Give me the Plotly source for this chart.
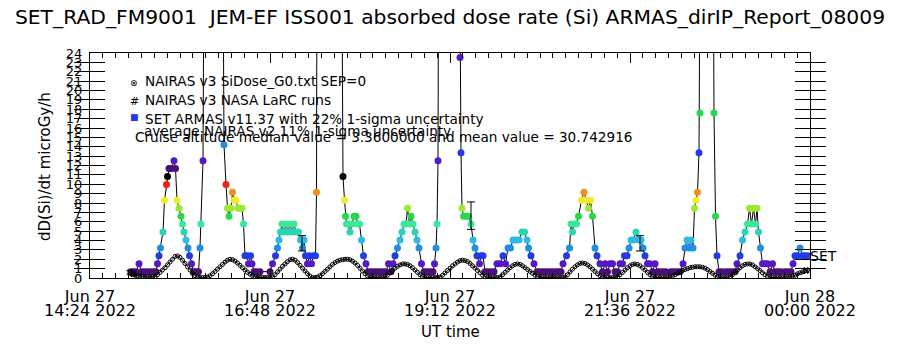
import pandas as pd
import plotly.graph_objects as go

# ---------------- data ----------------
T0 = pd.Timestamp("2022-06-27 14:24")
T_END = pd.Timestamp("2022-06-28 00:00")

# NAIRAS v3 SiDose_G0 (SEP=0), 2-min samples starting 14:58 UT
nairas_start = pd.Timestamp("2022-06-27 14:58")
nairas_step_min = 2
nairas_g0 = [
    0.35, 0.3, 0.25, 0.2, 0.15, 0.1, 0.1, 0.1, 0.1,
    0.15, 0.35, 0.6, 0.85, 1.1, 1.4, 1.7, 2.0, 2.3, 2.35, 2.2, 1.9, 1.55, 1.2, 0.85, 0.5, 0.25, 0.1,
    0.05, 0.05, 0.05,
    0.1, 0.25, 0.45, 0.7, 0.95, 1.2, 1.45, 1.7, 1.9, 2.0, 1.95, 1.8, 1.6, 1.35, 1.1, 0.85, 0.6, 0.4, 0.25, 0.1, 0.05,
    0.05, 0.05, 0.05, 0.05, 0.05,
    0.1, 0.35, 0.65, 0.95, 1.25, 1.5, 1.75, 1.95, 2.0, 1.9, 1.65, 1.35, 1.05, 0.75, 0.45, 0.2, 0.05,
    0.05, 0.1, 0.25, 0.45, 0.7, 0.95, 1.2, 1.45, 1.65, 1.8, 1.9, 1.95, 2.0, 2.0, 1.95, 1.8, 1.6, 1.35, 1.05, 0.75, 0.45, 0.2, 0.05,
    0.05, 0.05, 0.05, 0.05, 0.05,
    0.1, 0.3, 0.55, 0.8, 1.05, 1.25, 1.4, 1.5, 1.5, 1.45, 1.3, 1.1, 0.85, 0.6, 0.35, 0.15, 0.05,
    0.05, 0.05, 0.05, 0.05, 0.05,
    0.1, 0.3, 0.55, 0.8, 1.05, 1.3, 1.5, 1.7, 1.85, 1.9, 1.85, 1.75, 1.55, 1.3, 1.05, 0.8, 0.55, 0.3, 0.15, 0.05,
    0.05, 0.05, 0.05, 0.05,
    0.1, 0.35, 0.6, 0.85, 1.1, 1.3, 1.45, 1.5, 1.45, 1.3, 1.1, 0.9, 0.7, 0.5, 0.3, 0.15, 0.05,
    0.05, 0.05, 0.05, 0.05, 0.05, 0.05, 0.05, 0.05, 0.05,
    0.1, 0.35, 0.65, 0.95, 1.2, 1.4, 1.55, 1.6, 1.55, 1.4, 1.2, 0.95, 0.7, 0.45, 0.25, 0.1, 0.05,
    0.05, 0.05, 0.05, 0.05,
    0.1, 0.35, 0.6, 0.85, 1.1, 1.3, 1.45, 1.5, 1.45, 1.3, 1.1, 0.85, 0.6, 0.35, 0.15, 0.05,
    0.05, 0.05, 0.05, 0.05, 0.05,
    0.1, 0.2, 0.35, 0.5, 0.65, 0.8, 0.9, 1.0, 1.1, 1.15, 1.2, 1.2, 1.2, 1.15, 1.05, 0.9, 0.7, 0.5, 0.3, 0.1,
    0.05, 0.05, 0.05, 0.05,
    0.1, 0.35, 0.6, 0.85, 1.1, 1.3, 1.45, 1.5, 1.5, 1.4, 1.2, 1.0, 0.8, 0.55, 0.35, 0.15, 0.05,
    0.05, 0.05, 0.05, 0.05, 0.05, 0.05, 0.05,
    0.1, 0.2, 0.3, 0.45, 0.55, 0.65, 0.75, 0.85,
]

# SET ARMAS v11.37: minutes after 14:24 UT and dose rate (microGy/h)
armas_min = [
    32.8, 34.8, 36.8, 39.2, 41.2, 43.6, 46.0, 48.4, 50.8, 52.8,
    54.0, 55.2, 56.4, 58.4, 59.6, 61.2, 62.0, 63.2, 65.2, 67.2,
    68.4, 69.6, 71.2, 72.8, 74.0, 75.2, 76.8, 78.4, 79.6, 81.2,
    82.8, 84.8, 86.8, 88.0, 88.8, 90.4, 92.0, 95.2, 99.2, 103.2,
    106.4, 107.2, 108.8, 110.0, 111.2, 112.8, 114.0, 115.2, 116.8, 118.4,
    120.0, 121.6, 122.8, 124.0, 125.6, 126.8, 128.4, 129.6, 131.2, 133.6,
    136.0, 144.0, 146.0, 148.4, 150.0, 151.2, 152.4, 153.6, 155.2, 156.8,
    158.4, 160.0, 161.6, 163.2, 164.8, 166.8, 168.4, 170.0, 171.2, 172.4,
    174.0, 175.6, 177.2, 178.8, 180.4, 181.2, 182.4, 186.4, 192.0, 196.8,
    200.8, 202.4, 203.6, 204.4, 205.2, 206.4, 208.0, 209.6, 211.2, 212.8,
    214.0, 215.6, 217.2, 218.8, 220.8, 222.4, 224.8, 227.2, 229.6, 232.0,
    234.4, 236.8, 238.8, 240.8, 242.4, 244.0, 246.0, 248.0, 249.6, 251.2,
    252.8, 254.0, 255.6, 256.8, 258.4, 260.0, 261.6, 263.2, 265.2, 267.2,
    269.6, 272.0, 274.4, 275.6, 276.8, 277.6, 278.4, 280.0, 284.0, 288.8,
    292.8, 295.2, 296.0, 296.8, 297.6, 298.8, 300.8, 302.8, 304.8, 306.4,
    308.0, 309.6, 311.6, 312.8, 314.4, 316.0, 318.4, 320.8, 323.2, 325.6,
    328.0, 330.4, 332.4, 334.4, 336.4, 338.4, 340.8, 343.2, 345.6, 347.6,
    349.6, 350.8, 352.8, 355.2, 357.6, 360.0, 362.4, 364.8, 367.2, 369.6,
    372.0, 374.4, 376.8, 378.4, 381.2, 383.6, 384.8, 386.0, 387.2, 389.2,
    390.8, 393.2, 395.2, 396.8, 398.8, 400.4, 402.0, 404.0, 405.6, 408.0,
    410.0, 412.0, 414.0, 416.0, 418.0, 420.0, 422.0, 424.0, 426.0, 427.6,
    429.6, 431.2, 432.8, 434.8, 436.8, 438.8, 440.8, 442.4, 444.0, 446.0,
    448.0, 450.0, 452.0, 454.0, 456.0, 458.4, 460.8, 464.8, 467.2, 469.6,
    472.0, 474.4, 476.0, 477.6, 479.2, 480.8, 482.4, 483.6, 484.8, 486.0,
    487.2, 488.0, 489.6, 492.8, 496.0, 498.4, 499.2, 500.4, 501.6, 503.2,
    505.6, 508.8, 511.2, 513.6, 516.0, 517.6, 520.0, 522.0, 524.0, 526.0,
    527.6, 529.2, 530.8, 532.4, 533.6, 534.8, 536.4, 538.0, 540.0, 542.0,
    544.0, 546.0, 548.0, 550.4, 552.8, 556.0, 558.4, 560.8, 562.4, 564.0,
    566.0, 568.0, 570.0, 572.0, 574.0,
]
armas_dose = [
    0.68, 0.68, 0.68, 1.52, 0.68, 0.68, 0.68, 0.68, 0.68, 0.68,
    1.52, 2.37, 3.21, 4.91, 8.29, 9.98, 10.83, 11.67, 11.67, 12.52,
    11.67, 8.29, 7.44, 6.6, 5.75, 4.91, 4.06, 3.21, 2.37, 1.52,
    0.68, 0.68, 0.68, 3.21, 5.75, 12.52, 60, 140, 180, 90,
    35, 14.21, 9.98, 7.44, 6.6, 7.44, 9.14, 8.29, 8.29, 7.44,
    7.44, 7.44, 5.75, 2.37, 2.37, 1.52, 2.37, 1.52, 0.68, 0.68,
    0.68, 0.68, 1.52, 2.37, 3.21, 4.06, 4.91, 5.75, 4.91, 5.75,
    4.91, 5.75, 4.91, 5.75, 4.91, 4.91, 4.06, 3.21, 4.06, 2.37,
    1.52, 2.37, 1.52, 2.37, 2.37, 9.14, 90, 200, 250, 160,
    50, 10.83, 8.29, 6.6, 5.75, 5.75, 4.91, 5.75, 6.6, 6.6,
    5.75, 5.75, 4.06, 2.37, 1.52, 0.68, 0.68, 0.68, 0.68, 0.68,
    0.68, 0.68, 1.52, 0.68, 1.52, 2.37, 3.21, 4.06, 4.91, 5.75,
    5.75, 7.44, 5.75, 6.6, 5.75, 4.91, 4.06, 3.21, 1.52, 0.68,
    0.68, 0.68, 0.68, 1.52, 3.21, 5.75, 12.52, 90, 210, 260,
    150, 45, 23.52, 13.37, 7.44, 6.6, 6.6, 6.6, 5.75, 4.06,
    3.21, 2.37, 1.52, 2.37, 2.37, 0.68, 0.68, 0.68, 0.68, 1.52,
    1.52, 2.37, 1.52, 3.21, 3.21, 4.06, 4.06, 4.06, 4.91, 4.91,
    4.06, 3.21, 2.37, 1.52, 0.68, 0.68, 0.68, 0.68, 0.68, 0.68,
    0.68, 0.68, 0.68, 1.52, 2.37, 3.21, 5.75, 4.91, 5.75, 5.75,
    6.6, 8.29, 9.14, 8.29, 7.44, 8.29, 6.6, 3.21, 2.37, 1.52,
    0.68, 1.52, 0.68, 1.52, 1.52, 0.68, 0.68, 1.52, 1.52, 2.37,
    2.37, 3.21, 4.06, 4.06, 4.91, 4.06, 4.06, 3.21, 2.37, 1.52,
    1.52, 0.68, 1.52, 0.68, 0.68, 0.68, 0.68, 0.68, 0.68, 0.68,
    0.68, 1.52, 3.21, 4.06, 3.21, 4.06, 3.21, 7.44, 8.29, 9.14,
    13.37, 17.6, 80, 160, 110, 40, 17.6, 6.6, 2.37, 0.68,
    0.68, 0.68, 0.68, 0.68, 0.68, 1.52, 2.37, 4.06, 4.91, 5.75,
    7.44, 5.75, 7.44, 5.75, 7.44, 4.91, 3.21, 1.52, 1.52, 1.52,
    0.68, 1.52, 0.68, 0.68, 0.68, 0.68, 0.68, 0.68, 1.52, 2.37,
    2.37, 3.21, 2.37, 2.37, 2.37,
]

# NAIRAS v3 NASA LaRC runs
larc_min = [32.0, 34.4, 572.8]
larc_dose = [0.6, 0.45, 0.8]

# uncertainty bars (22%)
err_min = [169.6, 304.8, 440.0]
err_dose = [3.7, 6.65, 3.7]
err_pct = 22

# text
title_text = "SET_RAD_FM9001 \u00a0JEM-EF ISS001 absorbed dose rate (Si) ARMAS_dirIP_Report_08009"
legend_lines = [
    "NAIRAS v3 SiDose_G0.txt SEP=0",
    "NAIRAS v3 NASA LaRC runs",
    "SET ARMAS v11.37 with 22% 1-sigma uncertainty",
    "average NAIRAS v2 11% 1-sigma uncertainty",
    "Cruise altitude median value = 3.3600000 and mean value = 30.742916",
]
ytitle = "dD(Si)/dt microGy/h"
xtitle = "UT time"

# ---------------- styling helpers ----------------
FONT = "DejaVu Sans"
palette = ["#4a1078", "#5418c8", "#1f3ce8", "#1e8ee6", "#2abce6", "#26d6b4",
           "#3ae89a", "#28d848", "#9ee830", "#f0ec28", "#f0901a", "#f02010", "#000000"]
level0, level_step = 0.675, 0.846
ncyc = 3
N = len(palette) * ncyc
cmin = level0 - level_step / 2
cmax = cmin + level_step * N
cscale = []
for j in range(N):
    c = palette[j % len(palette)]
    cscale.append([j / N, c])
    cscale.append([(j + 1) / N, c])

nairas_t = [nairas_start + pd.Timedelta(minutes=nairas_step_min * i) for i in range(len(nairas_g0))]
armas_t = [T0 + pd.Timedelta(minutes=m) for m in armas_min]
larc_t = [T0 + pd.Timedelta(minutes=m) for m in larc_min]
err_t = [T0 + pd.Timedelta(minutes=m) for m in err_min]

fig = go.Figure()
fig.add_trace(go.Scatter(
    x=armas_t, y=armas_dose, mode="lines+markers",
    line=dict(color="black", width=1),
    marker=dict(size=7, symbol="circle", color=armas_dose, colorscale=cscale,
                cmin=cmin, cmax=cmax, line=dict(width=0)),
))
fig.add_trace(go.Scatter(
    x=nairas_t, y=nairas_g0, mode="lines+markers",
    line=dict(color="black", width=1),
    marker=dict(size=4, symbol="circle-open", color="black", line=dict(width=1)),
))
fig.add_trace(go.Scatter(
    x=larc_t, y=larc_dose, mode="markers",
    marker=dict(size=7, symbol="hash-open", color="black", line=dict(width=1, color="black")),
))
fig.add_trace(go.Scatter(
    x=err_t, y=err_dose, mode="markers", xaxis="x2",
    marker=dict(size=1, color="rgba(0,0,0,0)"),
    error_y=dict(type="percent", value=err_pct, color="black", thickness=1, width=4),
))

major_ms = 144 * 60 * 1000
common_x = dict(range=[T0, T_END], type="date", tick0=T0, dtick=major_ms,
                showgrid=False, zeroline=False)
fig.update_layout(
    width=900, height=350,
    margin=dict(l=90, r=90, t=53, b=72),
    paper_bgcolor="white", plot_bgcolor="white",
    showlegend=False,
    font=dict(family=FONT, color="black"),
    title=dict(text=title_text, x=0.5, xanchor="center", xref="paper",
               y=1 - 17 / 350, yref="container", yanchor="middle",
               font=dict(size=20.3, family=FONT, color="black")),
    xaxis=dict(**common_x, tickformat="%b %d", ticks="inside", ticklen=10,
               tickcolor="black", tickwidth=1, showline=True, linecolor="black",
               linewidth=1, mirror="allticks", tickfont=dict(size=16),
               ticklabelstandoff=4,
               minor=dict(tick0=T0, dtick=major_ms / 14, ticks="inside", ticklen=5,
                          tickcolor="black", tickwidth=1, showgrid=False)),
    xaxis2=dict(**common_x, overlaying="x", side="bottom", tickformat="%H:%M %Y",
                ticks="", showline=False, tickfont=dict(size=16),
                ticklabelstandoff=21),
    yaxis=dict(range=[0, 24], dtick=1, tick0=0, ticks="inside", ticklen=15,
               tickcolor="black", tickwidth=1, showline=True, linecolor="black",
               linewidth=1, mirror="allticks", showgrid=False, zeroline=False,
               tickfont=dict(size=13), ticklabelstandoff=4),
)

def px2paper(px, py):
    return (px - 90) / 720, (278 - py) / 225

ann = []
# legend symbols
for (sym, col, size, px, py) in [("\u2297", "black", 9, 134, 83),
                                 ("#", "black", 11, 134, 101),
                                 ("\u25a0", "#1f3ce8", 9, 134, 117)]:
    x, y = px2paper(px, py)
    ann.append(dict(text=sym, x=x, y=y, xref="paper", yref="paper", showarrow=False,
                    xanchor="center", yanchor="middle", font=dict(size=size, color=col)))
for text, px, py in zip(legend_lines, [143, 143, 143, 142, 133], [81, 100, 119, 131, 137]):
    x, y = px2paper(px, py)
    ann.append(dict(text=text, x=x, y=y, xref="paper", yref="paper", showarrow=False,
                    xanchor="left", yanchor="middle", font=dict(size=13.6)))
x, y = px2paper(45, 167)
ann.append(dict(text=ytitle, x=x, y=y, xref="paper", yref="paper", showarrow=False,
                textangle=-90, xanchor="center", yanchor="middle", font=dict(size=15)))
x, y = px2paper(450, 332)
ann.append(dict(text=xtitle, x=x, y=y, xref="paper", yref="paper", showarrow=False,
                xanchor="center", yanchor="middle", font=dict(size=15)))
x, y = px2paper(808, 256)
ann.append(dict(text="SET", x=x, y=y, xref="paper", yref="paper", showarrow=False,
                xanchor="left", yanchor="middle", font=dict(size=14)))
fig.update_layout(annotations=ann)

fig.write_html("out.html")
